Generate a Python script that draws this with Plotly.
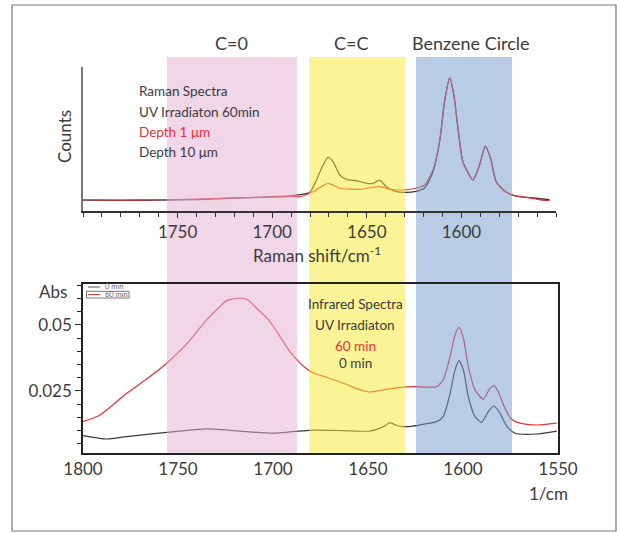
import plotly.graph_objects as go

# ---------------- data ----------------
# Raman (top panel), arbitrary counts
raman_x_10um = [1800, 1780, 1759.3, 1740, 1724.1, 1706.5, 1689, 1685.4, 1680.1, 1676.6,
                1673.1, 1670.5, 1667.8, 1664.3, 1660.8, 1655.5, 1650.2, 1646.7, 1643.2, 1639.7,
                1634.4, 1629.1, 1624.7, 1619.4, 1615.0, 1611.5, 1608.9, 1606.2, 1604.0, 1601.8,
                1599.2, 1593.9, 1590.4, 1587.4, 1584.6, 1581.6, 1577.2, 1572.0, 1563.1, 1553.4]
raman_10um = [7.6, 7.4, 7.6, 7.9, 8.8, 9.5, 10.6, 11.3, 13.0, 21.5,
              31.9, 37.3, 34.2, 25.0, 22.0, 21.0, 19.2, 19.2, 21.5, 16.9,
              13.4, 13.0, 13.4, 16.0, 27.3, 48.1, 75.9, 92.2, 80.6, 57.4,
              34.2, 21.5, 31.9, 45.1, 36.6, 20.3, 13.9, 10.6, 9.2, 7.8]

raman_x_1um = [1800, 1780, 1759.3, 1740, 1724.1, 1706.5, 1689, 1685.4, 1678.4, 1670.5,
               1664.3, 1653.7, 1643.2, 1637.9, 1630.9, 1627.3, 1622.1, 1619.4, 1615.0, 1611.5,
               1608.9, 1606.2, 1604.0, 1601.8, 1599.2, 1593.9, 1590.4, 1587.4, 1584.6, 1581.6,
               1577.2, 1572.0, 1563.1, 1557.8, 1553.4]
raman_1um = [7.8, 7.6, 7.8, 8.2, 8.9, 9.5, 10.2, 9.9, 13.4, 19.2,
             15.8, 15.1, 16.9, 15.1, 14.6, 15.1, 16.5, 18.1, 28.5, 48.6,
             75.9, 92.6, 80.6, 57.4, 34.2, 21.5, 31.9, 45.1, 36.6, 20.3,
             13.9, 10.6, 9.0, 7.6, 7.3]

# Infrared (bottom panel), Abs
ir_x_60 = [1800, 1791, 1777, 1766.5, 1756, 1745.4, 1735, 1728, 1724.4, 1718.3,
           1713.8, 1708.6, 1703, 1698, 1693, 1689.3, 1682, 1678.4, 1672, 1663,
           1654, 1649, 1642, 1637, 1626, 1614, 1610.4, 1606.8, 1604.2, 1602.1,
           1599.8, 1597.2, 1593.7, 1589.3, 1585.8, 1583.7, 1581.4, 1577.9, 1574.4, 1570,
           1561.2, 1550.7]
ir_60min = [0.0134, 0.0159, 0.0241, 0.0295, 0.0355, 0.0428, 0.0519, 0.0569, 0.0592, 0.0601,
            0.0597, 0.0563, 0.0525, 0.0475, 0.0418, 0.0383, 0.0332, 0.0317, 0.0302, 0.0279,
            0.0254, 0.0246, 0.0254, 0.0260, 0.0266, 0.0266, 0.0292, 0.0380, 0.0462, 0.0491,
            0.0450, 0.0342, 0.0254, 0.0219, 0.0260, 0.0270, 0.0247, 0.0184, 0.0143, 0.0128,
            0.0121, 0.0128]

ir_x_0 = [1800, 1787.5, 1777, 1756, 1735, 1714, 1700, 1681, 1663, 1649,
          1641.9, 1638.4, 1634.9, 1631.4, 1626.2, 1619.1, 1613.8, 1610.4, 1606.8, 1604.2,
          1602.1, 1599.8, 1597.2, 1593.7, 1590.2, 1586.7, 1583.7, 1580.5, 1577, 1572.6,
          1561.2, 1550.7]
ir_0min = [0.0081, 0.0068, 0.0077, 0.0093, 0.0106, 0.0096, 0.0090, 0.0101, 0.0100, 0.0098,
           0.0115, 0.0130, 0.0119, 0.0115, 0.0117, 0.0126, 0.0134, 0.0153, 0.0241, 0.0330,
           0.0365, 0.0330, 0.0228, 0.0153, 0.0131, 0.0172, 0.0193, 0.0166, 0.0117, 0.0090,
           0.0087, 0.0098]

# highlighted bands (wavenumber ranges)
band_labels = ["C=0", "C=C", "Benzene Circle"]
band_starts = [1755.8, 1681.0, 1624.7]
band_ends = [1687.4, 1630.5, 1574.2]

top_xticks = [1750, 1700, 1650, 1600]
bottom_xticks = [1800, 1750, 1700, 1650, 1600, 1550]
bottom_yticks = [0.025, 0.05]
bottom_yticktext = ["0.025", "0.05"]

# ---------------- figure ----------------
W, H = 617, 533
FONT = "Lato"
TXT = "#3c3c3c"
RED = "#e8303a"
BLACK = "#3a3a3a"

def px(x):
    return x / W

def py(y):
    return 1 - y / H

fig = go.Figure()

fig.add_trace(go.Scatter(x=raman_x_10um, y=raman_10um, mode="lines",
                         line=dict(color=BLACK, width=1.3, shape="spline", smoothing=0.6),
                         xaxis="x", yaxis="y", showlegend=False))
fig.add_trace(go.Scatter(x=raman_x_1um, y=raman_1um, mode="lines",
                         line=dict(color=RED, width=1.2, shape="spline", smoothing=0.6),
                         xaxis="x", yaxis="y", showlegend=False))
fig.add_trace(go.Scatter(x=ir_x_0, y=ir_0min, mode="lines",
                         line=dict(color=BLACK, width=1.2, shape="spline", smoothing=0.6),
                         xaxis="x2", yaxis="y2", showlegend=False))
fig.add_trace(go.Scatter(x=ir_x_60, y=ir_60min, mode="lines",
                         line=dict(color=RED, width=1.2, shape="spline", smoothing=0.6),
                         xaxis="x2", yaxis="y2", showlegend=False))

# bands: target colour over white, and overlay colour (opacity .5) that tints the lines
band_target = ["rgb(241,214,232)", "rgb(250,244,150)", "rgb(184,204,230)"]
band_overlay = ["rgb(227,173,209)", "rgb(245,233,45)", "rgb(113,153,205)"]

shapes = []
for s, e, tc, oc in zip(band_starts, band_ends, band_target, band_overlay):
    # top plot region (above traces)
    shapes.append(dict(type="rect", xref="x2", yref="paper", x0=s, x1=e,
                       y0=py(209.6), y1=py(57), fillcolor=oc, opacity=0.5,
                       line=dict(width=0), layer="above"))
    # gap with tick labels (below everything)
    shapes.append(dict(type="rect", xref="x2", yref="paper", x0=s, x1=e,
                       y0=py(285.2), y1=py(209.6), fillcolor=tc, opacity=1,
                       line=dict(width=0), layer="below"))
    # bottom plot region (above traces)
    shapes.append(dict(type="rect", xref="x2", yref="paper", x0=s, x1=e,
                       y0=py(452.2), y1=py(285.2), fillcolor=oc, opacity=0.5,
                       line=dict(width=0), layer="above"))
    shapes.append(dict(type="rect", xref="x2", yref="paper", x0=s, x1=e,
                       y0=py(453.5), y1=py(452.2), fillcolor=tc, opacity=1,
                       line=dict(width=0), layer="below"))

# outer frame
shapes.append(dict(type="rect", xref="paper", yref="paper", x0=px(12), x1=px(616),
                   y0=py(531), y1=py(5), line=dict(color="#777", width=1.2),
                   fillcolor="rgba(0,0,0,0)", layer="above"))

# mini legend in bottom plot
shapes.append(dict(type="line", xref="paper", yref="paper", x0=px(88), x1=px(100),
                   y0=py(287), y1=py(287), line=dict(color="#555", width=1)))
shapes.append(dict(type="line", xref="paper", yref="paper", x0=px(88), x1=px(100),
                   y0=py(294.5), y1=py(294.5), line=dict(color=RED, width=1)))
shapes.append(dict(type="rect", xref="paper", yref="paper", x0=px(86.5), x1=px(129),
                   y0=py(298), y1=py(291.3), line=dict(color="#555", width=0.8),
                   fillcolor="rgba(0,0,0,0)"))

annotations = []

def ann(text, x, y, size, color=TXT, xanchor="center", angle=0):
    annotations.append(dict(text=text, x=px(x), y=py(y), xref="paper", yref="paper",
                            showarrow=False, xanchor=xanchor, yanchor="middle",
                            textangle=angle, font=dict(family=FONT, size=size, color=color)))

for lbl, cx in zip(band_labels, [231, 351.7, 470.7]):
    ann(lbl, cx, 42.5, 18)

ann("Raman Spectra", 137, 90.7, 13.5, xanchor="left")
ann("UV Irradiaton 60min", 137, 111.7, 13.5, xanchor="left")
ann("Depth 1 μm", 137, 131.7, 13.5, color=RED, xanchor="left")
ann("Depth 10 μm", 137, 151.7, 13.5, xanchor="left")

ann("Counts", 65, 137, 17, angle=-90)
ann("Raman shift/cm<sup>-1</sup>", 316.7, 254, 17)
ann("Abs", 52.7, 291, 17)
ann("1/cm", 548, 493, 17)

ann("Infrared Spectra", 355, 303.5, 13.5)
ann("UV Irradiaton", 355, 324.5, 13.5)
ann("60 min", 355, 345.5, 13.5, color=RED)
ann("0 min", 355, 362.7, 13.5)

ann("0 min", 103, 286.8, 7.5, color="#666", xanchor="left")
ann("60 min", 103, 294.4, 7.5, color="#666", xanchor="left")

fig.update_layout(
    width=W, height=H, autosize=False,
    margin=dict(l=0, r=0, t=0, b=0, autoexpand=False),
    paper_bgcolor="white", plot_bgcolor="rgba(0,0,0,0)",
    font=dict(family=FONT, size=17, color=TXT),
    showlegend=False,
    shapes=shapes, annotations=annotations,
    xaxis=dict(domain=[px(83), px(556)], range=[1800, 1550], anchor="y",
               showgrid=False, zeroline=False, showline=True, linecolor="#333", linewidth=1.5,
               tickmode="array", tickvals=top_xticks, ticks="outside", ticklen=5,
               tickcolor="#333", tickwidth=1, automargin=False,
               minor=dict(tickmode="linear", tick0=1800, dtick=10, ticks="outside",
                          ticklen=4, tickcolor="#333", tickwidth=1),
               tickfont=dict(family=FONT, size=17, color=TXT)),
    yaxis=dict(domain=[py(211), py(67)], range=[0, 100], anchor="x",
               showgrid=False, zeroline=False, showline=True, linecolor="#777", linewidth=1.5,
               showticklabels=False, ticks="", automargin=False),
    xaxis2=dict(domain=[px(83), px(558)], range=[1800, 1550], anchor="y2",
                showgrid=False, zeroline=False, showline=True, mirror=True,
                linecolor="#222", linewidth=1.5, automargin=False,
                tickmode="array", tickvals=bottom_xticks, ticks="",
                tickfont=dict(family=FONT, size=17, color=TXT)),
    yaxis2=dict(domain=[py(453), py(284)], range=[0.0015, 0.0655], anchor="x2",
                showgrid=False, zeroline=False, showline=True, mirror=True,
                linecolor="#222", linewidth=1.5, automargin=False,
                tickmode="array", tickvals=bottom_yticks, ticktext=bottom_yticktext,
                ticks="outside", ticklen=6, tickcolor="#222", tickwidth=1.2,
                minor=dict(tickmode="linear", tick0=0, dtick=0.005, ticks="outside",
                           ticklen=4, tickcolor="#222", tickwidth=1.2),
                tickfont=dict(family=FONT, size=17, color=TXT)),
)

fig.write_html("out.html")
